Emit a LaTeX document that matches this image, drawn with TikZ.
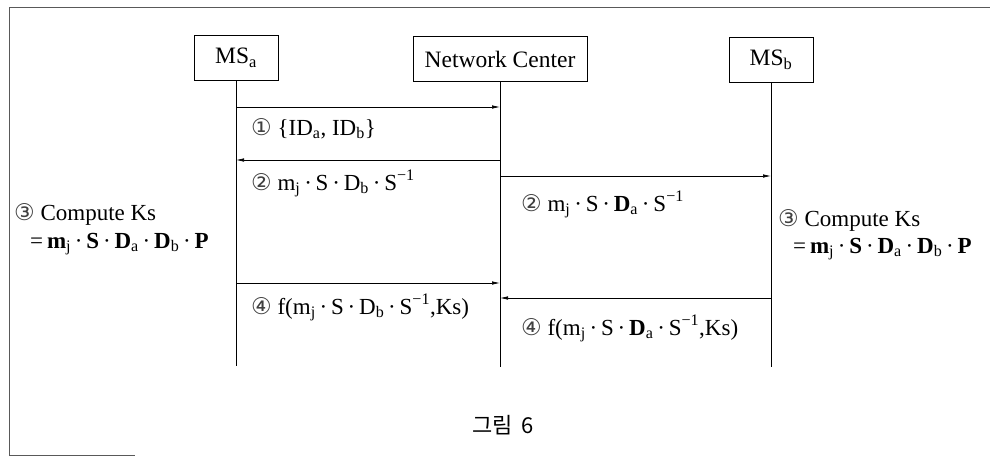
\documentclass[tikz,border=0pt]{standalone}
\usepackage{fontspec}
\setmainfont{Liberation Serif}
\newfontfamily\circfont{DejaVu Sans}
\newfontfamily\krfont{Noto Sans CJK KR}
\usetikzlibrary{arrows.meta}
\newcommand{\cnum}[1]{{\circfont\fontsize{23}{26}\selectfont\color{black!75}#1}}
\newcommand{\dt}{\,·\,}
\begin{document}
\begin{tikzpicture}[x=1pt,y=-1pt,
  actor/.style={draw,line width=0.9pt,minimum height=45pt,inner sep=0pt,font=\fontsize{23.5}{27}\selectfont},
  life/.style={line width=0.9pt},
  msg/.style={line width=0.7pt,-{Latex[length=8pt,width=3.5pt]}},
  lbl/.style={anchor=base west,inner sep=0pt,font=\fontsize{23}{27}\selectfont},
  frame/.style={line width=0.7pt,gray!70!black}]
\useasboundingbox (0,0) rectangle (990,456);
% frame
\draw[frame] (9,456) -- (9,7) -- (990,7);
\draw[frame] (9,455) -- (135,455);
% actors
\node[actor,minimum width=84pt] (msa) at (236,57.5) {MS\textsubscript{a}};
\node[actor,minimum width=174pt] (nc) at (500,59) {Network Center};
\node[actor,minimum width=84pt] (msb) at (771,59.5) {MS\textsubscript{b}};
\coordinate (ea) at (236,366);
\coordinate (en) at (500,367);
\coordinate (eb) at (771,367);
\draw[life] (msa.south) -- (ea);
\draw[life] (nc.south) -- (en);
\draw[life] (msb.south) -- (eb);
% message anchors
\coordinate (a1) at (236,107); \coordinate (n1) at (500,107);
\coordinate (a2) at (236,160); \coordinate (n2) at (500,160);
\coordinate (n2b) at (500,176); \coordinate (b2) at (771,176);
\coordinate (a4) at (236,283); \coordinate (n4) at (500,283);
\coordinate (n4b) at (500,298); \coordinate (b4) at (771,298);
\draw[msg] (a1) -- (n1);
\draw[msg] (n2) -- (a2);
\draw[msg] (n2b) -- (b2);
\draw[msg] (a4) -- (n4);
\draw[msg] (b4) -- (n4b);
% labels
\node[lbl] (l1) at (251,135) {\cnum{①}\ \{ID\textsubscript{a}, ID\textsubscript{b}\}};
\node[lbl] (l2) at (251,190) {\cnum{②}\ m\textsubscript{j}\dt S\dt D\textsubscript{b}\dt S\textsuperscript{−1}};
\node[lbl] (l2b) at (521,211) {\cnum{②}\ m\textsubscript{j}\dt S\dt \textbf{D}\textsubscript{a}\dt S\textsuperscript{−1}};
\node[lbl] (l4) at (251,314) {\cnum{④}\ f(m\textsubscript{j}\dt S\dt D\textsubscript{b}\dt S\textsuperscript{−1},Ks)};
\node[lbl] (l4b) at (521,335) {\cnum{④}\ f(m\textsubscript{j}\dt S\dt \textbf{D}\textsubscript{a}\dt S\textsuperscript{−1},Ks)};
% compute
\node[lbl] (c1) at (14,220) {\cnum{③}\ Compute Ks};
\node[lbl] (c1b) at (30,248) {=\,\textbf{m}\textsubscript{j}\dt \textbf{S}\dt \textbf{D}\textsubscript{a}\dt \textbf{D}\textsubscript{b}\dt \textbf{P}};
\node[lbl] (c2) at (778,226) {\cnum{③}\ Compute Ks};
\node[lbl] (c2b) at (793,253) {=\,\textbf{m}\textsubscript{j}\dt \textbf{S}\dt \textbf{D}\textsubscript{a}\dt \textbf{D}\textsubscript{b}\dt \textbf{P}};
% caption
\node[inner sep=0pt,font=\krfont\fontsize{22}{26}\selectfont] (cap) at (503,425) {그림\ \,6};
\end{tikzpicture}
\end{document}
